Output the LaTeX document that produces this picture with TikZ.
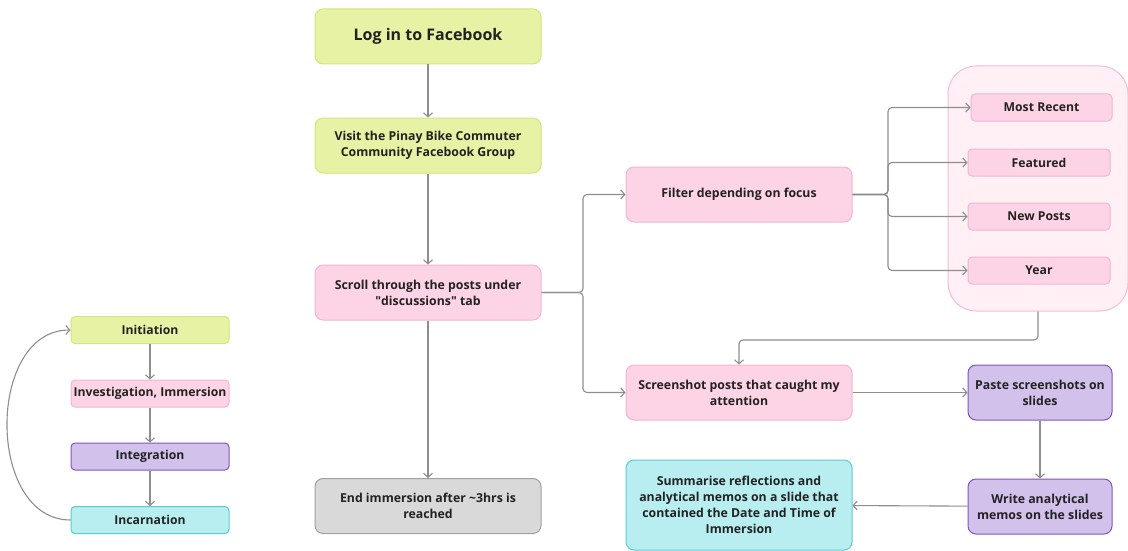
\documentclass[tikz,border=0pt]{standalone}
\usepackage{fontspec}
\setmainfont{Open Sans}
\usetikzlibrary{arrows.meta}
\definecolor{limefill}{HTML}{E7F2A4}
\definecolor{limeline}{HTML}{D3E57C}
\definecolor{pinkfill}{HTML}{FDD4E5}
\definecolor{pinkline}{HTML}{F3B5CF}
\definecolor{groupfill}{HTML}{FFF0F6}
\definecolor{groupline}{HTML}{F4BBD5}
\definecolor{grayfill}{HTML}{D9D9D9}
\definecolor{grayline}{HTML}{A0A0A0}
\definecolor{purpfill}{HTML}{D2C1EB}
\definecolor{purpline}{HTML}{7D56BC}
\definecolor{cyanfill}{HTML}{B8EEF0}
\definecolor{cyanline}{HTML}{58CCD4}
\definecolor{flowgray}{HTML}{8E8E8E}
\definecolor{textdark}{HTML}{222222}
\tikzset{
  box/.style={draw, rounded corners=8pt, line width=1pt, align=center, text=textdark,
    font=\bfseries\fontsize{12.3}{16}\selectfont, minimum width=226pt, minimum height=55pt, inner sep=0pt},
  smallbox/.style={box, rounded corners=4pt, minimum height=27pt, font=\bfseries\fontsize{12.2}{14}\selectfont},
  lime/.style={fill=limefill, draw=limeline},
  pink/.style={fill=pinkfill, draw=pinkline},
  grey/.style={fill=grayfill, draw=grayline},
  purp/.style={fill=purpfill, draw=purpline},
  cyan/.style={fill=cyanfill, draw=cyanline},
  flow/.style={draw=flowgray, line width=1.1pt, -{Straight Barb[length=4pt,width=9pt]}}
}
\begin{document}
\begin{tikzpicture}[x=1pt, y=-1pt]
  \useasboundingbox (0,0) rectangle (1128,551);
  % main column
  \node[box, lime, font=\bfseries\fontsize{16}{20}\selectfont] (login) at (428,36.5) {Log in to Facebook};
  \node[box, lime] (visit) at (428,145.5) {Visit the Pinay Bike Commuter\\Community Facebook Group};
  \node[box, pink] (scroll) at (428,292.5) {Scroll through the posts under\\\textquotedbl discussions\textquotedbl{} tab};
  \node[box, grey] (endimm) at (428,506) {End immersion after \textasciitilde3hrs is\\reached};
  % right side
  \node[box, pink] (filter) at (739,194.5) {Filter depending on focus};
  \node[box, pink] (shot) at (739,392.5) {Screenshot posts that caught my\\attention};
  \node[box, cyan, minimum height=90pt] (summ) at (739,505) {Summarise reflections and\\analytical memos on a slide that\\contained the Date and Time of\\Immersion};
  \node[box, purp, minimum width=144pt] (paste) at (1040,392.5) {Paste screenshots on\\slides};
  \node[box, purp, minimum width=144pt] (memo) at (1040,506.5) {Write analytical\\memos on the slides};
  % filter options
  \node[draw=groupline, fill=groupfill, line width=1pt, rounded corners=28pt,
    minimum width=180pt, minimum height=245pt] (group) at (1038,188.5) {};
  \node[smallbox, pink, minimum width=141pt] (recent) at (1041.5,107.5) {Most Recent};
  \node[smallbox, pink, minimum width=142pt] (feat) at (1039,162.5) {Featured};
  \node[smallbox, pink, minimum width=142pt] (newp) at (1039,216.5) {New Posts};
  \node[smallbox, pink, minimum width=142pt] (year) at (1039,270.5) {Year};
  % legend
  \node[smallbox, lime, minimum width=158pt] (init) at (150,330) {Initiation};
  \node[smallbox, pink, minimum width=158pt] (invest) at (150,393.5) {Investigation, Immersion};
  \node[smallbox, purp, minimum width=158pt] (integ) at (150,456.5) {Integration};
  \node[smallbox, cyan, minimum width=158pt] (incar) at (150,520) {Incarnation};

  % connectors
  \draw[flow] (login) -- (visit);
  \draw[flow] (visit) -- (scroll);
  \draw[flow] (scroll) -- (endimm);
  \draw[flow, rounded corners=4pt] (scroll.east) -- (583,292.5) |- (filter.west);
  \draw[flow, rounded corners=4pt] (scroll.east) -- (583,292.5) |- (shot.west);
  \draw[flow, rounded corners=4pt] (filter.east) -- (888,194.5) |- (recent.west);
  \draw[flow, rounded corners=4pt] (filter.east) -- (888,194.5) |- (feat.west);
  \draw[flow, rounded corners=4pt] (filter.east) -- (888,194.5) |- (newp.west);
  \draw[flow, rounded corners=4pt] (filter.east) -- (888,194.5) |- (year.west);
  \draw[flow, rounded corners=4pt] (group.south) -- (1038,340) -| (shot.north);
  \draw[flow] (shot) -- (paste);
  \draw[flow] (paste) -- (memo);
  \draw[flow] (memo) -- (summ);
  \draw[flow] (init) -- (invest);
  \draw[flow] (invest) -- (integ);
  \draw[flow] (integ) -- (incar);
  \draw[flow] (incar.west) .. controls (-14,520) and (-14,330) .. (init.west);
\end{tikzpicture}
\end{document}
